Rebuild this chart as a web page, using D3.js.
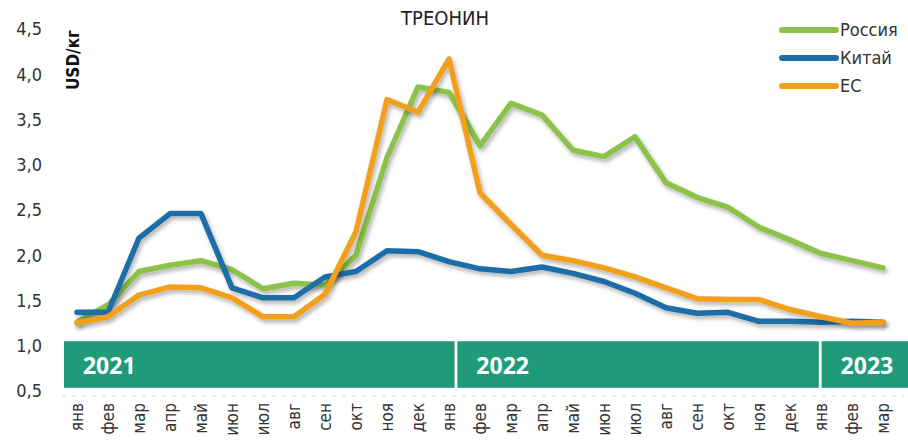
<!DOCTYPE html>
<html>
<head>
<meta charset="utf-8">
<script src="https://cdn.jsdelivr.net/npm/d3@7"></script>
<style>
  body { margin: 0; background: #fff; }
  svg { display: block; font-family: "Liberation Sans Narrow", "DejaVu Sans Condensed", sans-serif; }
</style>
</head>
<body>
<div id="chart"></div>
<script>
const months = ["янв","фев","мар","апр","май","июн","июл","авг","сен","окт","ноя","дек",
                "янв","фев","мар","апр","май","июн","июл","авг","сен","окт","ноя","дек",
                "янв","фев","мар"];
const years = ["2021", "2022", "2023"];
const yTicks = [0.5, 1.0, 1.5, 2.0, 2.5, 3.0, 3.5, 4.0, 4.5];

const russia = [1.26,1.45,1.82,1.89,1.94,1.84,1.63,1.69,1.67,2.00,3.08,3.86,3.80,3.21,3.68,3.55,3.16,3.09,3.31,2.80,2.64,2.53,2.31,2.17,2.02,1.94,1.86];
const china  = [1.37,1.37,2.19,2.46,2.46,1.64,1.53,1.53,1.76,1.82,2.05,2.04,1.93,1.85,1.82,1.87,1.80,1.71,1.58,1.42,1.36,1.37,1.27,1.27,1.26,1.27,1.26];
const eu     = [1.25,1.32,1.56,1.65,1.64,1.53,1.32,1.32,1.57,2.26,3.72,3.58,4.17,2.69,2.34,2.00,1.94,1.86,1.76,1.64,1.52,1.51,1.51,1.40,1.32,1.25,1.26];

const series = [
  { name: "Россия", values: russia, color: "#8CC249" },
  { name: "Китай",  values: china,  color: "#1C6DA8" },
  { name: "ЕС",     values: eu,     color: "#F29F1F" }
];

const width = 908, height = 444;

const svg = d3.select("#chart").append("svg")
  .attr("width", width)
  .attr("height", height);

const defs = svg.append("defs");
defs.append("filter")
  .attr("id", "shadow")
  .attr("x", "-10%").attr("y", "-10%")
  .attr("width", "120%").attr("height", "130%")
  .append("feDropShadow")
  .attr("dx", 2).attr("dy", 3)
  .attr("stdDeviation", 2)
  .attr("flood-color", "#000")
  .attr("flood-opacity", 0.3);

const x = d3.scalePoint()
  .domain(d3.range(months.length))
  .range([77, 883]);

// month index -> pixel, for the year band edges
const xi = d3.scaleLinear().domain([0, months.length - 1]).range([77, 883]);

const y = d3.scaleLinear()
  .domain([0.5, 4.5])
  .range([391, 29]);

// title
svg.append("text")
  .attr("x", 445).attr("y", 25)
  .attr("text-anchor", "middle")
  .attr("font-size", 20)
  .attr("fill", "#222")
  .text("ТРЕОНИН");

// y axis
const yAxis = svg.append("g")
  .attr("transform", "translate(48,0)")
  .call(d3.axisLeft(y)
    .tickValues(yTicks)
    .tickSize(0)
    .tickPadding(6)
    .tickFormat(d => d3.format(".1f")(d).replace(".", ",")));
yAxis.select(".domain").remove();
yAxis.selectAll("text")
  .attr("font-family", "Liberation Sans Narrow, DejaVu Sans Condensed, sans-serif")
  .attr("font-size", 18)
  .attr("fill", "#333");

// unit label
svg.append("text")
  .attr("transform", "translate(79,60) rotate(-90)")
  .attr("text-anchor", "middle")
  .attr("font-size", 17)
  .attr("font-weight", "bold")
  .attr("fill", "#111")
  .text("USD/кг");

// x axis baseline
svg.append("line")
  .attr("x1", 62).attr("x2", 905)
  .attr("y1", 396).attr("y2", 396)
  .attr("stroke", "#ddd")
  .attr("stroke-dasharray", "4,6");

// month labels
svg.append("g")
  .selectAll("text")
  .data(months)
  .join("text")
  .attr("transform", (d, i) => `translate(${x(i) + 6},403) rotate(-90)`)
  .attr("text-anchor", "end")
  .attr("font-size", 17)
  .attr("fill", "#333")
  .text(d => d);

// year band
const bandEdges = [[-0.42, 12.18], [12.27, 23.93], [24.02, 27]];
const band = svg.append("g");
band.selectAll("rect")
  .data(years)
  .join("rect")
  .attr("x", (d, i) => xi(bandEdges[i][0]))
  .attr("width", (d, i) => xi(bandEdges[i][1]) - xi(bandEdges[i][0]))
  .attr("y", y(1.05))
  .attr("height", y(0.535) - y(1.05))
  .attr("fill", "#1F9B7A");
band.selectAll("text")
  .data(years)
  .join("text")
  .attr("x", (d, i) => xi(bandEdges[i][0]) + 19)
  .attr("y", 374)
  .attr("font-family", "Open Sans, sans-serif")
  .attr("font-weight", "bold")
  .attr("font-size", 23)
  .attr("fill", "#fff")
  .text(d => d);

// lines
const line = d3.line()
  .x((d, i) => x(i))
  .y(d => y(d));

svg.append("g")
  .selectAll("path")
  .data(series)
  .join("path")
  .attr("d", d => line(d.values))
  .attr("fill", "none")
  .attr("stroke", d => d.color)
  .attr("stroke-width", 5.5)
  .attr("stroke-linejoin", "round")
  .attr("stroke-linecap", "round")
  .attr("filter", "url(#shadow)");

// legend
const legend = svg.append("g")
  .selectAll("g")
  .data(series)
  .join("g")
  .attr("transform", (d, i) => `translate(782,${30 + i * 28})`);
legend.append("line")
  .attr("x1", 0).attr("x2", 54)
  .attr("stroke", d => d.color)
  .attr("stroke-width", 6)
  .attr("stroke-linecap", "round");
legend.append("text")
  .attr("x", 58).attr("dy", "0.35em")
  .attr("font-size", 18)
  .attr("fill", "#333")
  .text(d => d.name);
</script>
</body>
</html>
